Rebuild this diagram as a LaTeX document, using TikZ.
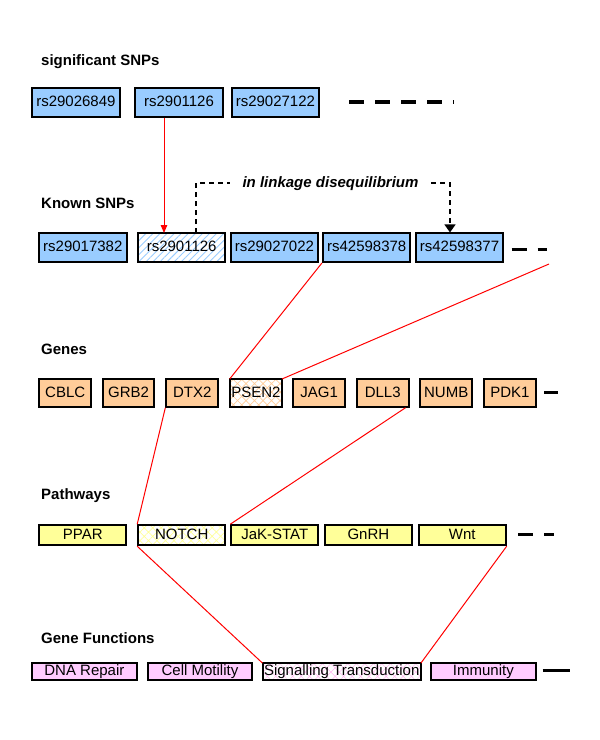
\documentclass[tikz,border=0pt]{standalone}
\usepackage{fontspec}
\setmainfont{Liberation Sans}
\usetikzlibrary{arrows.meta,patterns.meta,calc}
\definecolor{snpblue}{HTML}{99CCFF}
\definecolor{genepeach}{HTML}{FFCC99}
\definecolor{pathyellow}{HTML}{FFFF99}
\definecolor{funcpink}{HTML}{FFCCFF}
\definecolor{pinkhatch}{HTML}{FFB8F0}
\begin{document}
\begin{tikzpicture}[x=1pt,y=-1pt,
  box/.style={draw=black, line width=2pt, inner xsep=1pt, inner ysep=0pt,
    font=\fontsize{15}{18}\selectfont, text height=11pt, text depth=3pt},
  snpbox/.style={box, fill=snpblue, minimum width=87.5pt, minimum height=28.5pt},
  snphatch/.style={box, minimum width=87.5pt, minimum height=28.5pt,
    pattern={Lines[angle=45,distance=5pt,line width=0.9pt]}, pattern color=snpblue},
  genebox/.style={box, fill=genepeach, minimum width=51.7pt, minimum height=27.4pt},
  genehatch/.style={box, minimum width=51.7pt, minimum height=27.4pt,
    pattern={Hatch[angle=45,distance=6pt,line width=0.7pt]}, pattern color=genepeach},
  pathbox/.style={box, fill=pathyellow, minimum width=87pt, minimum height=20pt},
  pathhatch/.style={box, minimum width=87pt, minimum height=20pt,
    pattern={Hatch[angle=45,distance=6pt,line width=0.7pt]}, pattern color=pathyellow},
  funcbox/.style={box, fill=funcpink, minimum width=104.7pt, minimum height=16.4pt},
  funchatch/.style={box, minimum width=158pt, minimum height=16.4pt,
    pattern={Hatch[angle=45,distance=6pt,line width=0.5pt]}, pattern color=pinkhatch},
  rowtitle/.style={anchor=base west, inner sep=0pt, font=\fontsize{15}{18}\selectfont\bfseries},
  ldtext/.style={inner xsep=12.5pt, inner ysep=0pt, text height=11pt, text depth=3pt,
    font=\fontsize{15}{18}\selectfont\bfseries\itshape},
  lddash/.style={draw=black, line width=1.2pt, dash pattern=on 5pt off 4pt},
  redline/.style={draw=red, line width=1pt},
  thickdash/.style={draw=black, line width=3.5pt, dash pattern=on 15pt off 11pt},
  thickbar/.style={draw=black, line width=3.5pt}
]
\path[use as bounding box] (0,0) rectangle (600,740);

% titles
\node[rowtitle] (t1) at (41,65) {significant SNPs};
\node[rowtitle] (t2) at (41,208) {Known SNPs};
\node[rowtitle] (t3) at (41,354) {Genes};
\node[rowtitle] (t4) at (41,499) {Pathways};
\node[rowtitle] (t5) at (41,643) {Gene Functions};

% significant SNPs
\node[snpbox] (s1) at (75.9,102.3) {rs29026849};
\node[snpbox] (s2) at (179,102.3) {rs2901126};
\node[snpbox] (s3) at (275.4,102.3) {rs29027122};
\coordinate (d1a) at (349,102);
\coordinate (d1b) at (454.3,102);
\draw[thickdash] (d1a) -- (d1b);

% known SNPs
\node[snpbox] (k1) at (82.8,247.7) {rs29017382};
\node[snphatch] (k2) at (181.7,247.7) {rs2901126};
\node[snpbox] (k3) at (274.4,247.7) {rs29027022};
\node[snpbox] (k4) at (366.7,247.7) {rs42598378};
\node[snpbox] (k5) at (459.5,247.7) {rs42598377};
\coordinate (d2a) at (511.7,249.3);
\coordinate (d2b) at (546.7,249.3);
\draw[thickdash] (d2a) -- (d2b);

% genes
\node[genebox] (g1) at (65.2,393) {CBLC};
\node[genebox] (g2) at (128.6,393) {GRB2};
\node[genebox] (g3) at (192.2,393) {DTX2};
\node[genehatch] (g4) at (255.9,393) {PSEN2};
\node[genebox] (g5) at (319.2,393) {JAG1};
\node[genebox] (g6) at (382.7,393) {DLL3};
\node[genebox] (g7) at (446.2,393) {NUMB};
\node[genebox] (g8) at (509.9,393) {PDK1};
\coordinate (d3a) at (544.3,392.7);
\coordinate (d3b) at (557.7,392.7);
\draw[thickbar] (d3a) -- (d3b);

% pathways
\node[pathbox] (p1) at (82.8,535.2) {PPAR};
\node[pathhatch] (p2) at (181.7,535.2) {NOTCH};
\node[pathbox] (p3) at (274.8,535.2) {JaK-STAT};
\node[pathbox] (p4) at (368.4,535.2) {GnRH};
\node[pathbox] (p5) at (462.2,535.2) {Wnt};
\coordinate (d4a) at (518.3,534.3);
\coordinate (d4b) at (554,534.3);
\draw[thickdash] (d4a) -- (d4b);

% gene functions
\node[funcbox] (f1) at (84.4,671.5) {DNA Repair};
\node[funcbox] (f2) at (200,671.5) {Cell Motility};
\node[funchatch] (f3) at (341.7,671.5) {Signalling Transduction};
\node[funcbox] (f4) at (483.4,671.5) {Immunity};
\coordinate (d5a) at (542.7,670.7);
\coordinate (d5b) at (570,670.7);
\draw[thickbar] (d5a) -- (d5b);

% linkage disequilibrium
\node[ldtext] (ld) at (330.5,183) {in linkage disequilibrium};
\draw[lddash] ([xshift=14.3pt]k2.north) |- (ld.west);
\draw[lddash,-{Triangle[width=11pt,length=8pt]}] (ld.east) -| ([xshift=-9.5pt]k5.north);

% red connectors
\draw[redline,-{Triangle[width=6.5pt,length=8pt]}] ([xshift=-15pt]s2.south) -- ([xshift=-15pt]s2.south |- k2.north);
\coordinate (kfar) at (549,264);
\draw[redline] (k4.south west) -- (g4.north west);
\draw[redline] (kfar) -- (g4.north east);
\draw[redline] (g3.south west) -- (p2.north west);
\draw[redline] (p3.north west) -- ([xshift=-4pt]g6.south east);
\draw[redline] (p2.south west) -- (f3.north west);
\draw[redline] (p5.south east) -- (f3.north east);
\end{tikzpicture}
\end{document}
